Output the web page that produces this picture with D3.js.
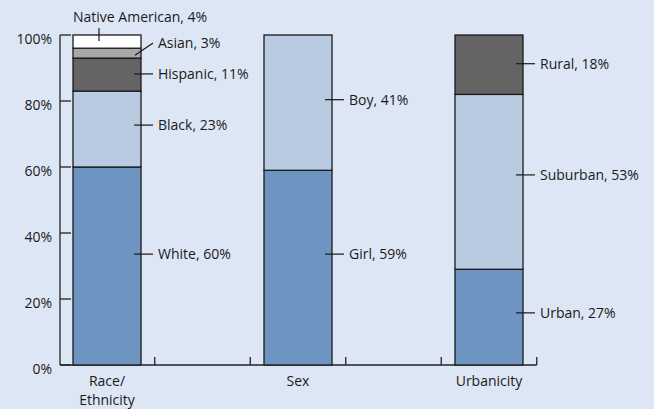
<!DOCTYPE html>
<html><head><meta charset="utf-8">
<script src="https://cdn.jsdelivr.net/npm/d3@7"></script>
<style>
html,body{margin:0;padding:0;background:#dde6f4;}
svg{display:block;font-family:"Open Sans","Noto Sans",sans-serif;}
</style></head>
<body><svg id="chart" width="654" height="409"></svg>
<script>
// ---- data ----
const categories = ["Race/Ethnicity", "Sex", "Urbanicity"];
const categoryLines = [["Race/", "Ethnicity"], ["Sex"], ["Urbanicity"]];
// drawn segment heights (%), bottom to top
const raceValues = [60, 23, 10, 3, 4];
const raceLabels = ["White, 60%", "Black, 23%", "Hispanic, 11%", "Asian, 3%", "Native American, 4%"];
const sexValues = [59, 41];
const sexLabels = ["Girl, 59%", "Boy, 41%"];
const urbanValues = [29, 53, 18];
const urbanLabels = ["Urban, 27%", "Suburban, 53%", "Rural, 18%"];
const yTicks = [0, 20, 40, 60, 80, 100];

const raceColors = ["#6e95c1", "#b9cbe1", "#646464", "#a8a8a8", "#ffffff"];
const sexColors = ["#6e95c1", "#b9cbe1"];
const urbanColors = ["#6e95c1", "#b9cbe1", "#646464"];

const groups = [
  {cat: categories[0], values: raceValues, labels: raceLabels, colors: raceColors},
  {cat: categories[1], values: sexValues, labels: sexLabels, colors: sexColors},
  {cat: categories[2], values: urbanValues, labels: urbanLabels, colors: urbanColors}
];

const FS = 14;
const svg = d3.select("#chart");
const y = d3.scaleLinear().domain([0, 100]).range([365, 35]);
const x = d3.scalePoint().domain(categories).range([107, 489]);
const step = x.step();
const barW = step * 0.356;
const axisLeft = 60, axisRight = x(categories[2]) + step / 4;

// y axis
const ya = svg.append("g");
ya.append("line").attr("x1", axisLeft).attr("x2", axisLeft).attr("y1", y(100)).attr("y2", y(0))
  .attr("stroke", "#222").attr("stroke-width", 1.3);
ya.selectAll("line.t").data(yTicks).join("line").attr("class", "t")
  .attr("x1", axisLeft).attr("x2", axisLeft + 11).attr("y1", d => y(d)).attr("y2", d => y(d))
  .attr("stroke", "#222").attr("stroke-width", 1.3);
ya.selectAll("text").data(yTicks).join("text")
  .attr("x", 52).attr("y", d => y(d) + 9).attr("text-anchor", "end")
  .attr("font-size", FS).attr("fill", "#1a1a1a").text(d => d + "%");

// x axis
svg.append("line").attr("x1", axisLeft).attr("x2", axisRight).attr("y1", y(0)).attr("y2", y(0))
  .attr("stroke", "#222").attr("stroke-width", 1.3);
const xt = [];
categories.forEach((c, i) => { if (i > 0) xt.push(x(c) - step / 4); xt.push(x(c) + step / 4); });
svg.selectAll("line.xt").data(xt).join("line").attr("class", "xt")
  .attr("x1", d => d).attr("x2", d => d).attr("y1", y(0)).attr("y2", y(0) - 8)
  .attr("stroke", "#222").attr("stroke-width", 1.3);
categoryLines.forEach((lines, i) => {
  lines.forEach((t, j) => {
    svg.append("text").attr("x", x(categories[i])).attr("y", 386 + j * 19.3)
      .attr("text-anchor", "middle").attr("font-size", FS).attr("fill", "#1a1a1a").text(t);
  });
});

// bars
groups.forEach(g => {
  let cum = 0;
  const segs = g.values.map((v, i) => { const s = {y0: cum, y1: cum + v, color: g.colors[i], label: g.labels[i]}; cum += v; return s; });
  const bx = x(g.cat) - barW / 2;
  svg.append("g").selectAll("rect").data(segs).join("rect")
    .attr("x", bx).attr("width", barW)
    .attr("y", d => y(d.y1)).attr("height", d => y(d.y0) - y(d.y1))
    .attr("fill", d => d.color).attr("stroke", "#1a1a1a").attr("stroke-width", 1.3);
});

// labels
function hLabel(g, i, at) {
  const right = x(g.cat) + barW / 2;
  const yy = y(at);
  svg.append("line").attr("x1", right - 7).attr("x2", right + 12).attr("y1", yy).attr("y2", yy)
    .attr("stroke", "#1a1a1a").attr("stroke-width", 1.2);
  svg.append("text").attr("x", right + 17).attr("y", yy).attr("dy", "0.35em")
    .attr("font-size", FS).attr("fill", "#1a1a1a").text(g.labels[i]);
}
const rg = groups[0], sg = groups[1], ug = groups[2];
hLabel(rg, 0, 33.6);
hLabel(rg, 1, 72.7);
hLabel(rg, 2, 88.2);
{
  const right = x(rg.cat) + barW / 2;
  svg.append("line").attr("x1", right - 6).attr("x2", right + 12).attr("y1", y(93.9)).attr("y2", y(97.6))
    .attr("stroke", "#1a1a1a").attr("stroke-width", 1.2);
  svg.append("text").attr("x", right + 17).attr("y", y(97.6)).attr("dy", "0.35em")
    .attr("font-size", FS).attr("fill", "#1a1a1a").text(rg.labels[3]);
  const left = x(rg.cat) - barW / 2;
  const cx = x(rg.cat) - 8;
  svg.append("line").attr("x1", cx).attr("x2", cx).attr("y1", y(98.2)).attr("y2", 28)
    .attr("stroke", "#1a1a1a").attr("stroke-width", 1.2);
  svg.append("text").attr("x", left).attr("y", 22)
    .attr("font-size", FS).attr("fill", "#1a1a1a").text(rg.labels[4]);
}
hLabel(sg, 0, 33.6);
hLabel(sg, 1, 80.4);
hLabel(ug, 0, 15.8);
hLabel(ug, 1, 57.6);
hLabel(ug, 2, 91.3);
</script></body></html>
